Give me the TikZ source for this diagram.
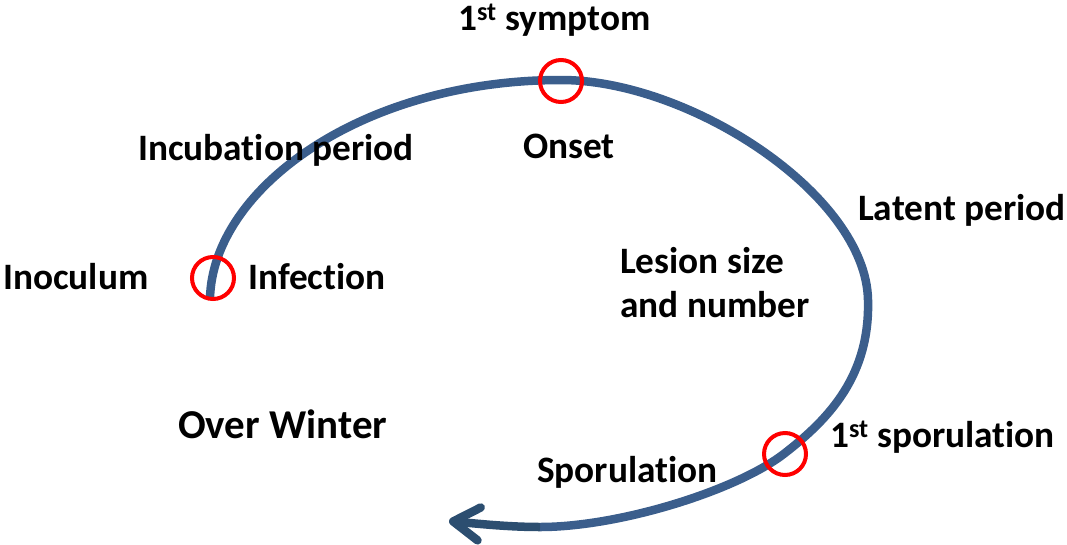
\documentclass[tikz,border=0pt]{standalone}
\usepackage{fontspec}
\setmainfont{Carlito}[RawFeature={-liga;-clig;-calt;-dlig}]
\usetikzlibrary{arrows.meta}
\definecolor{cyclecol}{RGB}{59,94,140}
\definecolor{arrowcol}{RGB}{44,78,112}
\definecolor{markred}{RGB}{255,0,0}
\begin{document}
\begin{tikzpicture}[x=1pt,y=-1pt,
  lab/.style={anchor=base west,inner sep=0pt,font=\fontsize{37.3}{44}\selectfont\bfseries},
  biglab/.style={anchor=base west,inner sep=0pt,font=\fontsize{41}{48}\selectfont\bfseries},
  cyc/.style={draw=cyclecol,line width=8.5pt},
  ringmark/.style={draw=markred,line width=4pt,circle,minimum size=42pt,inner sep=0pt}]
\useasboundingbox (0,0) rectangle (1067,544);
% cycle curve
\coordinate (p0) at (210,299);
\coordinate (p1) at (561,80);
\coordinate (p2) at (868,300);
\coordinate (p3) at (785,453);
\coordinate (p4) at (540,527);
\coordinate (tip) at (449,521);
\draw[cyc] (p0) .. controls (212,190) and (360,80) .. (p1)
  .. controls (690,80) and (866,195) .. (p2)
  .. controls (870,375) and (830,418) .. (p3)
  .. controls (738,490) and (620,527) .. (p4);
\draw[draw=arrowcol,line width=8.5pt,-{Straight Barb[length=26pt,width=33pt,round]}] (p4) .. controls (510,527) and (480,524) .. (tip);
% markers
\node[ringmark] (minf) at (213,278) {};
\node[ringmark] (msym) at (561,81) {};
\node[ringmark] (mspo) at (785,454) {};
% labels
\node[lab] (sym) at (458,30) {1\textsuperscript{st} symptom};
\node[lab] (onset) at (523,158) {Onset};
\node[lab] (incub) at (138,160) {Incubation period};
\node[lab] (latent) at (858,220) {Latent period};
\node[lab] (les1) at (620,273) {Lesion size};
\node[lab] (les2) at (620,317) {and number};
\node[lab] (inoc) at (3,289) {Inoculum};
\node[lab] (infec) at (248,289) {Infection};
\node[biglab] (winter) at (178,438) {Over Winter};
\node[lab] (spo1) at (830,447) {1\textsuperscript{st} sporulation};
\node[lab] (spo) at (537,482) {Sporulation};
\end{tikzpicture}
\end{document}
